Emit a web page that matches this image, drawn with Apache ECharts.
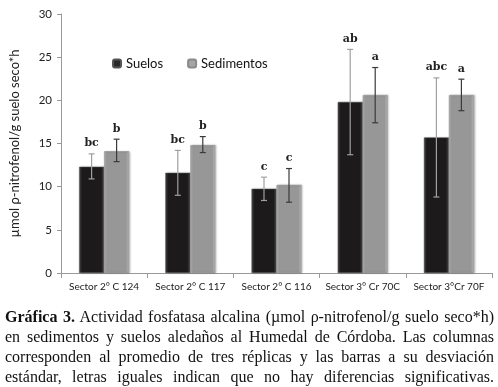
<!DOCTYPE html>
<html>
<head>
<meta charset="utf-8">
<script src="https://cdn.jsdelivr.net/npm/echarts@6/dist/echarts.min.js"></script>
<style>
  body { margin: 0; background: #fff; }
  #wrap { position: relative; width: 498px; height: 387px; }
  #chart { position: absolute; left: 0; top: 0; width: 498px; height: 387px; }
  #caption {
    position: absolute; left: 5px; top: 307px; width: 489px;
    font-family: "Liberation Serif", "DejaVu Serif", serif; font-size: 16px;
    line-height: 20px; color: #111;
  }
  #caption div { text-align: justify; text-align-last: justify; white-space: nowrap; }
</style>
</head>
<body>
<div id="wrap">
  <div id="chart"></div>
  <div id="caption">
    <div><b>Gráfica 3.</b> Actividad fosfatasa alcalina (µmol ρ-nitrofenol/g suelo seco*h)</div>
    <div>en sedimentos y suelos aledaños al Humedal de Córdoba. Las columnas</div>
    <div>corresponden al promedio de tres réplicas y las barras a su desviación</div>
    <div>estándar, letras iguales indican que no hay diferencias significativas.</div>
  </div>
</div>
<script>
// datos
const categories = ['Sector 2° C 124', 'Sector 2° C 117', 'Sector 2° C 116', 'Sector 3° Cr 70C', 'Sector 3°Cr 70F'];
const suelos = [12.3, 11.6, 9.75, 19.8, 15.7];
const suelosLow = [10.9, 9.0, 8.4, 13.7, 8.8];
const suelosHigh = [13.8, 14.2, 11.1, 25.9, 22.6];
const sedimentos = [14.1, 14.8, 10.2, 20.6, 20.6];
const sedLow = [12.9, 13.95, 8.2, 17.4, 18.8];
const sedHigh = [15.5, 15.8, 12.1, 23.8, 22.45];
const letrasSuelos = ['bc', 'bc', 'c', 'ab', 'abc'];
const letrasSed = ['b', 'b', 'c', 'a', 'a'];
const yTicks = [0, 5, 10, 15, 20, 25, 30];

const BAR_W = 25;
const FONT = 'Lato, "Open Sans", sans-serif';
const myChart = echarts.init(document.getElementById('chart'));

function errorSeries(name, low, high, letters, offset, color) {
  return {
    type: 'custom',
    name: name + '_err',
    z: 5,
    renderItem: function (params, api) {
      const i = api.value(0);
      const top = api.coord([i, api.value(2)]);
      const bot = api.coord([i, api.value(1)]);
      const x = top[0] + offset;
      const cap = 3;
      return {
        type: 'group',
        children: [
          { type: 'line', shape: { x1: x, y1: top[1], x2: x, y2: bot[1] }, style: { stroke: color, lineWidth: 1.2 } },
          { type: 'line', shape: { x1: x - cap, y1: top[1], x2: x + cap, y2: top[1] }, style: { stroke: color, lineWidth: 1.2 } },
          { type: 'line', shape: { x1: x - cap, y1: bot[1], x2: x + cap, y2: bot[1] }, style: { stroke: color, lineWidth: 1.2 } },
          { type: 'text', style: { x: x, y: top[1] - 5, text: letters[i], fill: '#222', align: 'center', verticalAlign: 'bottom',
              font: 'bold 11px "DejaVu Serif", serif' } }
        ]
      };
    },
    data: low.map((v, i) => [i, v, high[i]])
  };
}

const darkFill = new echarts.graphic.LinearGradient(0, 0, 1, 0, [
  { offset: 0, color: '#4a4a4a' }, { offset: 0.12, color: '#1c1a1b' },
  { offset: 0.88, color: '#1c1a1b' }, { offset: 1, color: '#4a4a4a' }
]);
const lightFill = new echarts.graphic.LinearGradient(0, 0, 1, 0, [
  { offset: 0, color: '#b8b8b8' }, { offset: 0.12, color: '#979797' },
  { offset: 0.88, color: '#979797' }, { offset: 1, color: '#b8b8b8' }
]);

myChart.setOption({
  animation: false,
  textStyle: { fontFamily: FONT },
  legend: {
    left: 107, top: 52, itemWidth: 8, itemHeight: 8, itemGap: 24,
    textStyle: { fontSize: 13, color: '#111', fontFamily: FONT },
    data: [
      { name: 'Suelos', itemStyle: { color: '#2a2a2a' } },
      { name: 'Sedimentos', itemStyle: { color: '#a5a5a5' } }
    ]
  },
  grid: { left: 58, right: 6, top: 14, bottom: 114 },
  xAxis: {
    type: 'category',
    data: categories,
    axisLine: { lineStyle: { color: '#999' } },
    axisTick: { show: true, length: 5, lineStyle: { color: '#999' } },
    axisLabel: { fontSize: 10, color: '#222', margin: 9, interval: 0, fontFamily: FONT }
  },
  yAxis: {
    type: 'value',
    min: yTicks[0], max: yTicks[yTicks.length - 1], interval: 5,
    name: 'µmol ρ-nitrofenol/g suelo seco*h',
    nameLocation: 'middle', nameGap: 40,
    nameTextStyle: { fontSize: 13, color: '#222', fontFamily: FONT },
    axisLine: { show: true, lineStyle: { color: '#999' } },
    axisTick: { show: true, inside: false, length: 4, lineStyle: { color: '#999' } },
    splitLine: { show: false },
    axisLabel: { fontSize: 11.5, color: '#222', margin: 9, fontFamily: FONT }
  },
  series: [
    {
      name: 'Suelos', type: 'bar', barWidth: BAR_W, barGap: '0%', data: suelos,
      itemStyle: { color: darkFill, borderColor: '#555', borderWidth: 0.5,
        shadowColor: 'rgba(0,0,0,0.25)', shadowBlur: 2, shadowOffsetX: 1 }
    },
    {
      name: 'Sedimentos', type: 'bar', barWidth: BAR_W, barGap: '0%', data: sedimentos,
      itemStyle: { color: lightFill, borderColor: '#8a8a8a', borderWidth: 0.5,
        shadowColor: 'rgba(0,0,0,0.25)', shadowBlur: 2, shadowOffsetX: 1 }
    },
    errorSeries('Suelos', suelosLow, suelosHigh, letrasSuelos, -BAR_W / 2, '#a0a0a0'),
    errorSeries('Sedimentos', sedLow, sedHigh, letrasSed, BAR_W / 2, '#3a3a3a')
  ]
});
</script>
</body>
</html>
